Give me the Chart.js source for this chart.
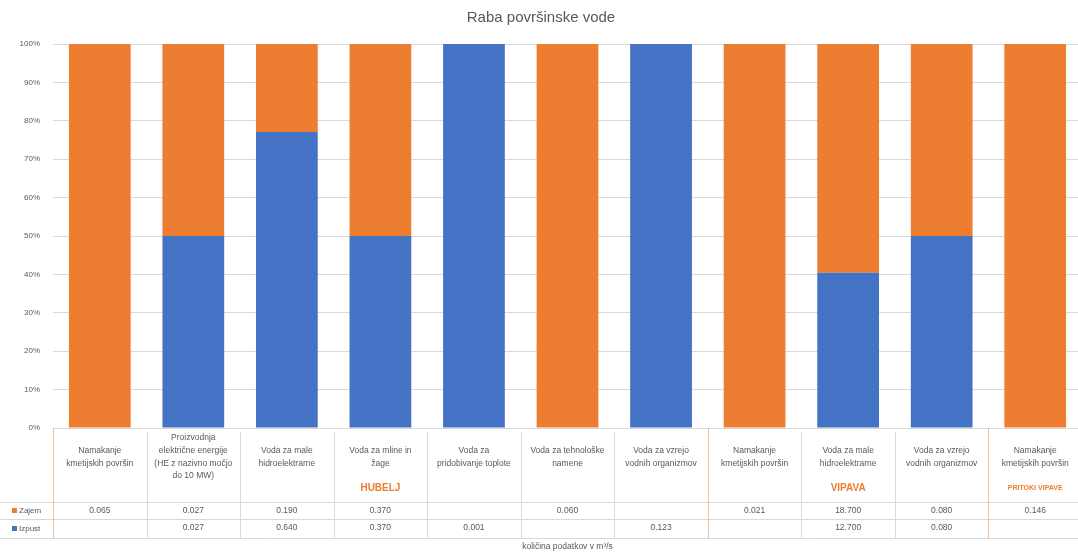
<!DOCTYPE html>
<html>
<head>
<meta charset="utf-8">
<title>Raba površinske vode</title>
<script src="https://cdn.jsdelivr.net/npm/chart.js@4/dist/chart.umd.min.js"></script>
<style>
  html, body { margin: 0; padding: 0; background: #ffffff; overflow: hidden; }
  #wrap { width: 1078px; height: 554px; overflow: hidden; }
</style>
</head>
<body>
<div id="wrap"><canvas id="c" width="1082" height="554"></canvas></div>
<script>
// Categories (namen rabe), grouped by water body
const categories = [
  ["Namakanje", "kmetijskih površin"],
  ["Proizvodnja", "električne energije", "(HE z nazivno močjo", "do 10 MW)"],
  ["Voda za male", "hidroelektrarne"],
  ["Voda za mline in", "žage"],
  ["Voda za", "pridobivanje toplote"],
  ["Voda za tehnološke", "namene"],
  ["Voda za vzrejo", "vodnih organizmov"],
  ["Namakanje", "kmetijskih površin"],
  ["Voda za male", "hidroelektrarne"],
  ["Voda za vzrejo", "vodnih organizmov"],
  ["Namakanje", "kmetijskih površin"]
];
const groupLabels = ["HUBELJ", "VIPAVA", "PRITOKI VIPAVE"];
const groupSizes = [7, 3, 1];

// Quantities in m3/s (null = no data)
const zajem  = [0.065, 0.027, 0.190, 0.370, null, 0.060, null, 0.021, 18.700, 0.080, 0.146];
const izpust = [null, 0.027, 0.640, 0.370, 0.001, null, 0.123, null, 12.700, 0.080, null];

const yTicks = [0, 10, 20, 30, 40, 50, 60, 70, 80, 90, 100];

const ORANGE = "#ED7D31";
const BLUE = "#4472C4";
const TEXT = "#595959";
const FONT = "'Liberation Sans', Arial, sans-serif";

// 100 % stacked shares
function share(a, b) {
  return a.map((v, i) => {
    if (v == null) return null;
    const tot = (v || 0) + (b[i] || 0);
    return tot ? v / tot * 100 : null;
  });
}
const zajemPct = share(zajem, izpust);
const izpustPct = share(izpust, zajem);

function fmt(v) { return v == null ? "" : v.toFixed(3); }

// Data table drawn under the plot area
const dataTable = {
  id: "dataTable",
  afterDraw(chart) {
    const ctx = chart.ctx;
    const x = chart.scales.x;
    const area = chart.chartArea;
    const n = categories.length;
    const colW = (area.right - area.left) / n;
    const top = area.bottom;
    const rowZ = 502, rowI = 519, tableBottom = 538;

    ctx.save();
    // horizontal rules
    ctx.strokeStyle = "#D9D9D9";
    ctx.lineWidth = 1;
    [rowZ, rowI, tableBottom].forEach(y => {
      ctx.beginPath();
      ctx.moveTo(0, y + 0.5);
      ctx.lineTo(area.right, y + 0.5);
      ctx.stroke();
    });
    // column separators
    const groupEdges = new Set();
    let acc = 0;
    groupSizes.forEach(s => { acc += s; groupEdges.add(acc); });
    for (let i = 0; i <= n; i++) {
      const px = Math.round(area.left + i * colW) + 0.5;
      const isGroup = i === 0 || groupEdges.has(i);
      ctx.strokeStyle = isGroup ? "#F2BE98" : "#D9D9D9";
      ctx.beginPath();
      ctx.moveTo(px, top + (isGroup ? 0 : 4));
      ctx.lineTo(px, tableBottom);
      ctx.stroke();
    }

    // category labels, vertically centred
    ctx.fillStyle = TEXT;
    ctx.textAlign = "center";
    ctx.textBaseline = "middle";
    ctx.font = "8.5px " + FONT;
    const lh = 12.6;
    categories.forEach((lines, i) => {
      const cx = x.getPixelForValue(i);
      const y0 = 457 - (lines.length - 1) * lh / 2;
      lines.forEach((t, k) => ctx.fillText(t, cx, y0 + k * lh));
    });

    // group labels
    ctx.fillStyle = ORANGE;
    let start = 0;
    groupSizes.forEach((s, g) => {
      const mid = area.left + (start + s / 2) * colW;
      ctx.font = (s > 1 ? "bold 10px " : "bold 7px ") + FONT;
      ctx.fillText(groupLabels[g], mid, 488);
      start += s;
    });

    // values
    ctx.fillStyle = TEXT;
    ctx.font = "8.5px " + FONT;
    zajem.forEach((v, i) => ctx.fillText(fmt(v), x.getPixelForValue(i), 510.5));
    izpust.forEach((v, i) => ctx.fillText(fmt(v), x.getPixelForValue(i), 528));

    // row headers with legend keys
    ctx.textAlign = "left";
    ctx.font = "8px " + FONT;
    ctx.fillStyle = ORANGE;
    ctx.fillRect(12, 508, 5, 5);
    ctx.fillStyle = BLUE;
    ctx.fillRect(12, 526, 5, 5);
    ctx.fillStyle = TEXT;
    ctx.fillText("Zajem", 19, 510.5);
    ctx.fillText("Izpust", 19, 528.5);

    // axis title
    ctx.textAlign = "center";
    ctx.font = "8.5px " + FONT;
    ctx.fillText("količina podatkov v m³/s", (area.left + area.right) / 2, 547);
    ctx.restore();
  }
};

new Chart(document.getElementById("c"), {
  type: "bar",
  data: {
    labels: categories.map(l => l.join(" ")),
    datasets: [
      { label: "Izpust", data: izpustPct, backgroundColor: BLUE, barPercentage: 0.66, categoryPercentage: 1 },
      { label: "Zajem", data: zajemPct, backgroundColor: ORANGE, barPercentage: 0.66, categoryPercentage: 1 }
    ]
  },
  options: {
    responsive: false,
    animation: false,
    layout: { padding: { left: 0, right: 0, top: 0, bottom: 126 } },
    plugins: {
      legend: { display: false },
      tooltip: { enabled: false },
      title: {
        display: true,
        text: "Raba površinske vode",
        color: TEXT,
        font: { family: FONT, size: 15, weight: "normal" },
        padding: { top: 9, bottom: 17 }
      }
    },
    scales: {
      x: {
        stacked: true,
        display: false
      },
      y: {
        stacked: true,
        min: 0,
        max: 100,
        afterBuildTicks(scale) { scale.ticks = yTicks.map(v => ({ value: v })); },
        afterFit(scale) { scale.width = 53; },
        border: { display: false },
        grid: { color: "#D9D9D9", drawTicks: false },
        ticks: {
          color: TEXT,
          font: { family: FONT, size: 8 },
          padding: 13,
          callback: v => v + "%"
        }
      }
    }
  },
  plugins: [dataTable]
});
</script>
</body>
</html>
